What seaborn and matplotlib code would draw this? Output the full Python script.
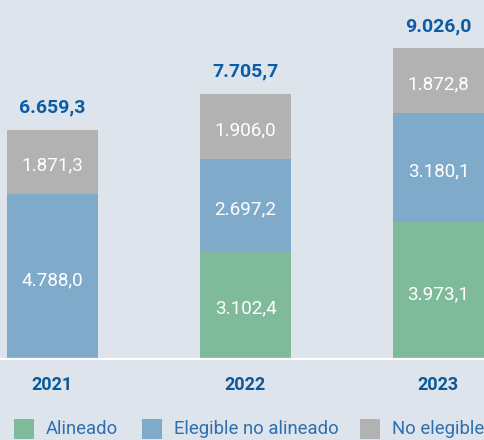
import matplotlib
matplotlib.use("Agg")
import matplotlib.pyplot as plt
import seaborn as sns
import numpy as np
import pandas as pd
from matplotlib.patches import Rectangle

years = ["2021", "2022", "2023"]
alineado = [0.0, 3102.4, 3973.1]
elegible_no_alineado = [4788.0, 2697.2, 3180.1]
no_elegible = [1871.3, 1906.0, 1872.8]
totales = [6659.3, 7705.7, 9026.0]
series_names = ["Alineado", "Elegible no alineado", "No elegible"]
colors = ["#7fba9b", "#80aaca", "#b1b2b1"]

def fmt(v):
    s = f"{v:,.1f}"
    return s.replace(",", "X").replace(".", ",").replace("X", ".")

sns.set_theme(style="white")
plt.rcParams["font.family"] = ["Roboto", "DejaVu Sans"]

BG = "#dee4ec"
W, H = 484, 440
fig = plt.figure(figsize=(W / 100, H / 100), dpi=100, facecolor=BG)
base_px = 358
ax = fig.add_axes([0, (H - base_px) / H, 1, base_px / H])
ax.set_facecolor(BG)
scale = 0.0343  # px per unit
centre0 = 52.5
step = 193.0

df = pd.DataFrame({"year": years, "Alineado": alineado,
                   "Elegible no alineado": elegible_no_alineado,
                   "No elegible": no_elegible})
bottom = np.zeros(len(years))
for name, col in zip(series_names, colors):
    vals = df[name].to_numpy()
    sns.barplot(x=np.arange(len(years)), y=vals, bottom=bottom, color=col,
                width=91 / step, ax=ax, native_scale=True, saturation=1,
                linewidth=0, errorbar=None)
    for i, (b, v) in enumerate(zip(bottom, vals)):
        if v > 0:
            ax.text(i, b + v / 2 - 4 / scale, fmt(v), ha="center", va="center",
                    color="white", fontsize=13.6)
    bottom = bottom + vals

for i, t in enumerate(totales):
    ax.text(i, t + 22 / scale, fmt(t), ha="center", va="center",
            color="#0b5ca5", fontsize=14, fontweight="bold")

ax.set_xlim(-centre0 / step, (W - centre0) / step)
ax.set_ylim(0, base_px / scale)
ax.axis("off")

# baseline
fig.add_artist(plt.Line2D([0, 1], [(H - 359) / H] * 2, color="white", lw=1.6,
                          transform=fig.transFigure))

# year labels
for i, y in enumerate(years):
    xpx = centre0 + i * step - 1
    fig.text(xpx / W, (H - 385) / H, y, ha="center", va="center",
             color="#0d5796", fontsize=13, fontweight="bold")

# legend
leg_x = [14, 142, 360]
for x0, name, col in zip(leg_x, series_names, colors):
    fig.add_artist(Rectangle((x0 / W, (H - 439) / H), 20 / W, 20 / H,
                             transform=fig.transFigure, color=col, lw=0))
    fig.text((x0 + 32) / W, (H - 429) / H, name, ha="left", va="center",
             color="#2f6fb0", fontsize=13.3)

fig.savefig("out.png", dpi=100, facecolor=BG)
